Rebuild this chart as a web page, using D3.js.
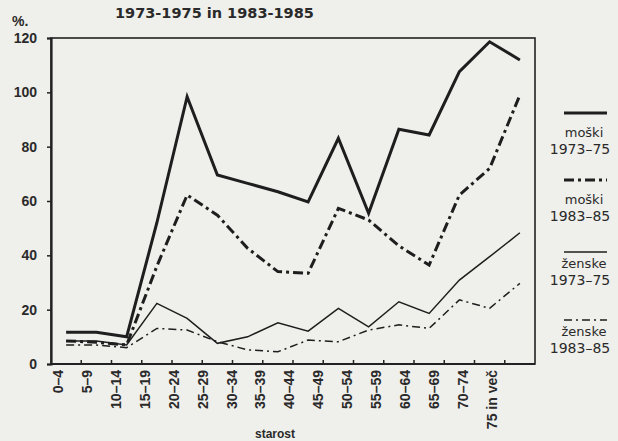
<!DOCTYPE html>
<html>
<head>
<meta charset="utf-8">
<script src="https://cdn.jsdelivr.net/npm/d3@7"></script>
<style>
  body { margin: 0; background: #efefeb; }
  svg { display: block; }
  text { fill: #2a2a2a; }
</style>
</head>
<body>
<div class="chart"></div>
<script>
// age groups
const ages = ["0–4", "5–9", "10–14", "15–19", "20–24", "25–29", "30–34", "35–39",
  "40–44", "45–49", "50–54", "55–59", "60–64", "65–69", "70–74", "75 in več"];

const moski7375 = [11.7, 11.7, 10.0, 52, 98.4, 69.6, 66.5, 63.4, 59.7, 83.1, 55.5, 86.4, 84.3, 107.6, 118.6, 111.9];
const moski8385 = [8.5, 8.0, 7.0, 36, 62.2, 54.8, 42.6, 34.0, 33.4, 57.3, 53.0, 43.5, 36.4, 62.2, 72.0, 99.0];
const zenske7375 = [8.5, 8.5, 7.0, 22.3, 16.8, 7.6, 10.0, 15.2, 12.1, 20.5, 13.7, 22.9, 18.6, 30.9, 39.5, 48.3];
const zenske8385 = [7.0, 7.0, 6.0, 13.1, 12.5, 8.2, 5.2, 4.5, 8.8, 8.2, 12.5, 14.4, 13.1, 23.6, 20.5, 29.7];

const yTicks = [0, 20, 40, 60, 80, 100, 120];

const series = [
  { name: "moški", years: "1973–75", values: moski7375, width: 3, dash: null },
  { name: "moški", years: "1983–85", values: moski8385, width: 3, dash: "10,4,3,4" },
  { name: "ženske", years: "1973–75", values: zenske7375, width: 1.5, dash: null },
  { name: "ženske", years: "1983–85", values: zenske8385, width: 1.5, dash: "8,4,2,4" }
];

const W = 618, H = 441;
const plot = { left: 51, right: 535, top: 38, bottom: 364 };

const svg = d3.select(".chart").append("svg")
  .attr("width", W).attr("height", H);

const x = d3.scaleBand().domain(ages).range([plot.left, plot.right]);
const y = d3.scaleLinear().domain([0, 120]).range([plot.bottom, plot.top]);
// the typed labels drift a little left of the points
const xLab = d3.scalePoint().domain(ages).range([58, 492]);

// title
svg.append("text")
  .attr("x", 115).attr("y", 18)
  .style("font", "bold 14.5px 'DejaVu Sans'")
  .text("1973-1975 in 1983-1985");

svg.append("text")
  .attr("x", 12).attr("y", 26)
  .style("font", "bold 14px 'Liberation Sans'")
  .text("%.");

// frame
svg.append("rect")
  .attr("x", plot.left).attr("y", plot.top)
  .attr("width", plot.right - plot.left).attr("height", plot.bottom - plot.top)
  .attr("fill", "none").attr("stroke", "#222").attr("stroke-width", 1.6);

// y axis
const yAxis = svg.append("g")
  .attr("transform", `translate(${plot.left},0)`)
  .call(d3.axisLeft(y).tickValues(yTicks).tickSize(4).tickPadding(10));
yAxis.select(".domain").attr("stroke", "#222").attr("stroke-width", 2.2);
yAxis.selectAll(".tick line").attr("stroke", "#222").attr("stroke-width", 1.5);
yAxis.selectAll(".tick text")
  .style("font", "bold 14px 'Liberation Sans'").attr("fill", "#2a2a2a");

// x axis ticks at the group boundaries, pointing in
const bounds = ages.slice(1).map(a => x(a));
svg.append("g").selectAll("line")
  .data(bounds)
  .join("line")
  .attr("x1", d => d).attr("x2", d => d)
  .attr("y1", plot.bottom).attr("y2", plot.bottom - 4)
  .attr("stroke", "#222").attr("stroke-width", 1.5);
svg.append("line")
  .attr("x1", plot.left).attr("x2", plot.right)
  .attr("y1", plot.bottom).attr("y2", plot.bottom)
  .attr("stroke", "#222").attr("stroke-width", 2.2);

// x labels, rotated
svg.append("g").selectAll("text")
  .data(ages)
  .join("text")
  .attr("transform", d => `translate(${xLab(d)},370) rotate(-90)`)
  .attr("text-anchor", "end")
  .attr("dy", "0.35em")
  .style("font", "bold 14px 'Liberation Sans'")
  .text(d => d);

svg.append("text")
  .attr("x", 275).attr("y", 438)
  .attr("text-anchor", "middle")
  .style("font", "bold 12px 'Liberation Sans'")
  .text("starost");

// lines
const line = d3.line()
  .x((d, i) => x(ages[i]) + x.bandwidth() / 2)
  .y(d => y(d));

svg.append("g").selectAll("path")
  .data(series)
  .join("path")
  .attr("d", d => line(d.values))
  .attr("fill", "none")
  .attr("stroke", "#1e1e1e")
  .attr("stroke-width", d => d.width)
  .attr("stroke-linejoin", "miter")
  .attr("stroke-dasharray", d => d.dash);

// legend
const legY = [113, 180, 252, 320];
const leg = svg.append("g").selectAll("g")
  .data(series)
  .join("g")
  .attr("transform", (d, i) => `translate(584,${legY[i]})`);

leg.append("line")
  .attr("x1", -20).attr("x2", 23)
  .attr("stroke", "#1e1e1e")
  .attr("stroke-width", d => d.width)
  .attr("stroke-dasharray", d => d.dash);

leg.append("text")
  .attr("y", d => d.width > 2 ? 24 : 16)
  .attr("text-anchor", "middle")
  .style("font", "13px 'DejaVu Sans'")
  .text(d => d.name);

leg.append("text")
  .attr("x", -4)
  .attr("y", d => d.width > 2 ? 41 : 33)
  .attr("text-anchor", "middle")
  .style("font", "14px 'DejaVu Sans'")
  .text(d => d.years);
</script>
</body>
</html>
